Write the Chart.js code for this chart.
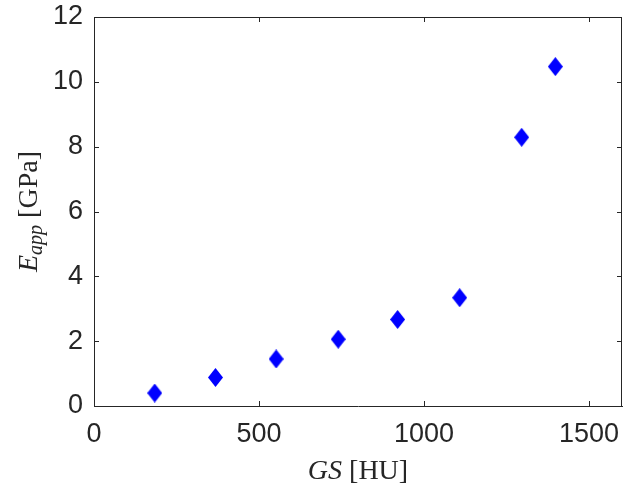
<!DOCTYPE html>
<html>
<head>
<meta charset="utf-8">
<script src="https://cdn.jsdelivr.net/npm/chart.js@4/dist/chart.umd.min.js"></script>
<style>
  html, body { margin: 0; padding: 0; background: #ffffff; overflow: hidden; }
  #wrap { width: 624px; height: 490px; }
  canvas { display: block; }
</style>
</head>
<body>
<div id="wrap"><canvas id="c" width="624" height="490"></canvas></div>
<script>
// ---- data ----
const gsValues = [184, 368, 552, 740, 920, 1108, 1296, 1398];   // GS [HU]
const eAppValues = [0.40, 0.88, 1.45, 2.06, 2.67, 3.34, 8.29, 10.47]; // E_app [GPa]
const xTickValues = [0, 500, 1000, 1500];
const yTickValues = [0, 2, 4, 6, 8, 10, 12];
const xRange = [0, 1600];
const yRange = [0, 12];

const AXIS_COLOR = '#262626';
const MARKER_COLOR = '#0000ff';

// diamond marker (taller than wide, like MATLAB 'd')
function makeDiamond(w, h, color) {
  const cv = document.createElement('canvas');
  cv.width = w; cv.height = h;
  const g = cv.getContext('2d');
  g.fillStyle = color;
  g.beginPath();
  g.moveTo(w / 2, 0);
  g.lineTo(w, h / 2);
  g.lineTo(w / 2, h);
  g.lineTo(0, h / 2);
  g.closePath();
  g.fill();
  return cv;
}
const diamond = makeDiamond(15, 19, MARKER_COLOR);

const points = gsValues.map((x, i) => ({ x: x, y: eAppValues[i] }));

function zeroPadding(s) {
  s.paddingLeft = 0; s.paddingRight = 0; s.paddingTop = 0; s.paddingBottom = 0;
}

const boxAndTitles = {
  id: 'boxAndTitles',
  afterDraw(chart) {
    const ctx = chart.ctx;
    const a = chart.chartArea;
    const xs = chart.scales.x, ys = chart.scales.y;
    ctx.save();
    ctx.strokeStyle = AXIS_COLOR;
    ctx.lineWidth = 1;
    // top and right box lines
    ctx.beginPath();
    ctx.moveTo(a.left, a.top + 0.5); ctx.lineTo(a.right, a.top + 0.5);
    ctx.moveTo(a.right - 0.5, a.top); ctx.lineTo(a.right - 0.5, a.bottom);
    ctx.stroke();
    // inward tick marks on all four sides
    const tl = 5;
    ctx.beginPath();
    xTickValues.forEach(v => {
      const px = Math.round(xs.getPixelForValue(v)) + 0.5;
      ctx.moveTo(px, a.bottom); ctx.lineTo(px, a.bottom - tl);
      ctx.moveTo(px, a.top); ctx.lineTo(px, a.top + tl);
    });
    yTickValues.forEach(v => {
      const py = Math.round(ys.getPixelForValue(v)) + 0.5;
      ctx.moveTo(a.left, py); ctx.lineTo(a.left + tl, py);
      ctx.moveTo(a.right, py); ctx.lineTo(a.right - tl, py);
    });
    ctx.stroke();

    // axis titles (LaTeX-like)
    const fs = 28;
    const serif = '"Liberation Serif", "DejaVu Serif", serif';
    ctx.fillStyle = AXIS_COLOR;
    ctx.textBaseline = 'alphabetic';
    ctx.textAlign = 'left';

    // x title: GS [HU]
    const xParts = [
      { t: 'GS', f: 'italic ' + fs + 'px ' + serif, dy: 0 },
      { t: ' [HU]', f: fs + 'px ' + serif, dy: 0 }
    ];
    let wTot = 0;
    xParts.forEach(p => { ctx.font = p.f; p.w = ctx.measureText(p.t).width; wTot += p.w; });
    let cx = (a.left + a.right) / 2 - wTot / 2;
    const xBase = 479;
    xParts.forEach(p => { ctx.font = p.f; ctx.fillText(p.t, cx, xBase + p.dy); cx += p.w; });

    // y title: E_app [GPa], rotated
    const yParts = [
      { t: 'E', f: 'italic ' + fs + 'px ' + serif, dy: 0 },
      { t: 'app', f: 'italic ' + Math.round(fs * 0.72) + 'px ' + serif, dy: 5 },
      { t: ' [GPa]', f: fs + 'px ' + serif, dy: 0 }
    ];
    wTot = 0;
    yParts.forEach(p => { ctx.font = p.f; p.w = ctx.measureText(p.t).width; wTot += p.w; });
    ctx.translate(37, (a.top + a.bottom) / 2);
    ctx.rotate(-Math.PI / 2);
    let cy = -wTot / 2;
    yParts.forEach(p => { ctx.font = p.f; ctx.fillText(p.t, cy, p.dy); cy += p.w; });
    ctx.restore();
  }
};

new Chart(document.getElementById('c'), {
  type: 'scatter',
  data: {
    datasets: [{
      data: points,
      pointStyle: diamond,
      pointRadius: 9,
      pointHoverRadius: 9,
      backgroundColor: MARKER_COLOR,
      borderColor: MARKER_COLOR
    }]
  },
  options: {
    responsive: false,
    animation: false,
    events: [],
    layout: { autoPadding: false, padding: { top: 17, right: 2, left: 0, bottom: 0 } },
    plugins: { legend: { display: false }, tooltip: { enabled: false } },
    scales: {
      x: {
        type: 'linear',
        min: xRange[0], max: xRange[1],
        grid: { display: false, drawTicks: false },
        border: { display: true, color: AXIS_COLOR, width: 1 },
        afterFit(s) { s.height = 84; zeroPadding(s); },
        afterBuildTicks(s) { s.ticks = xTickValues.map(v => ({ value: v })); },
        ticks: {
          padding: 0,
          maxRotation: 0,
          autoSkip: false,
          color: AXIS_COLOR,
          callback: v => String(v),
          font: { family: '"Liberation Sans", Arial, sans-serif', size: 27, lineHeight: 2.15 }
        }
      },
      y: {
        type: 'linear',
        min: yRange[0], max: yRange[1],
        grid: { display: false, drawTicks: false },
        border: { display: true, color: AXIS_COLOR, width: 1 },
        afterFit(s) { s.width = 94; zeroPadding(s); },
        afterBuildTicks(s) { s.ticks = yTickValues.map(v => ({ value: v })); },
        ticks: {
          padding: 11,
          autoSkip: false,
          color: AXIS_COLOR,
          callback: v => String(v),
          font: { family: '"Liberation Sans", Arial, sans-serif', size: 27 }
        }
      }
    }
  },
  plugins: [boxAndTitles]
});
</script>
</body>
</html>
